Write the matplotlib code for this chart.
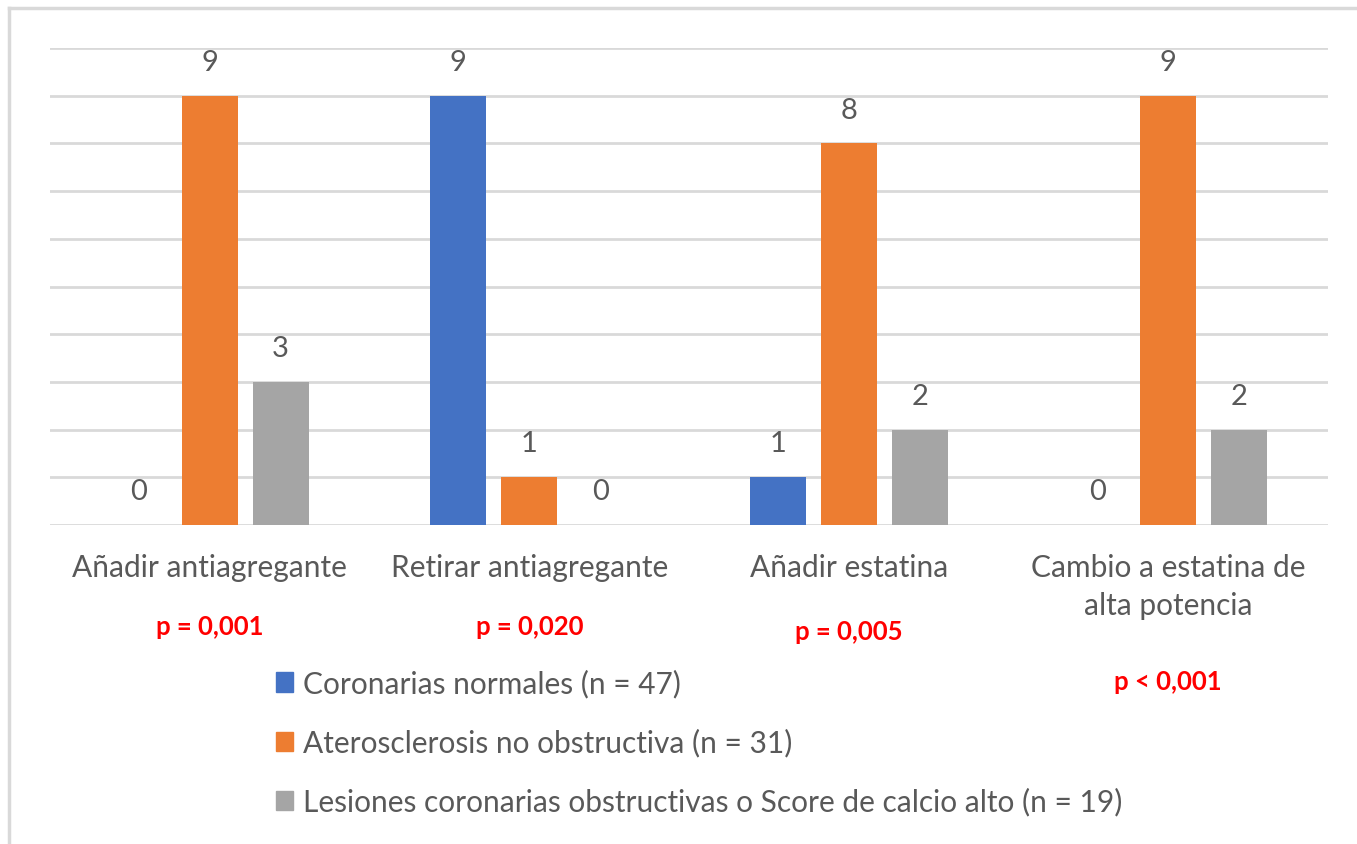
"""
Barras agrupadas: cambios de tratamiento por grupo de coronariografía
"""
import matplotlib
matplotlib.use("Agg")
import matplotlib.pyplot as plt
import matplotlib.patches as mpatches
from matplotlib.lines import Line2D
import matplotlib.transforms as mtransforms
import numpy as np

CATEGORIES = ["Añadir antiagregante", "Retirar antiagregante", "Añadir estatina",
              "Cambio a estatina de\nalta potencia"]
SERIES = ["Coronarias normales (n = 47)", "Aterosclerosis no obstructiva (n = 31)",
          "Lesiones coronarias obstructivas o Score de calcio alto (n = 19)"]
NORMALES = [0, 9, 1, 0]
ATEROSCLEROSIS = [9, 1, 8, 9]
LESIONES = [3, 0, 2, 2]
P_VALUES = ["p = 0,001", "p = 0,020", "p = 0,005", "p < 0,001"]

COLORS = ["#4472c4", "#ed7d31", "#a5a5a5"]
TEXT = "#595959"
GRID = "#d9d9d9"

plt.rcParams["font.family"] = ["Lato", "DejaVu Sans"]

fig = plt.figure(figsize=(13.57, 8.45), dpi=100)
W, H = 1357, 845
ax = fig.add_axes([50 / W, 1 - 526 / H, (1328 - 50) / W, (526 - 49) / H])

x = np.arange(len(CATEGORIES))
width = 0.175
step = 0.222
for k, (vals, col) in enumerate(zip([NORMALES, ATEROSCLEROSIS, LESIONES], COLORS)):
    pos = x + (k - 1) * step
    ax.bar(pos, vals, width=width, color=col, zorder=3)
    for px, v in zip(pos, vals):
        ax.annotate(str(v), (px, v), xytext=(0, 15), textcoords="offset points",
                    ha="center", va="bottom", fontsize=21, color=TEXT)

ax.set_xlim(-0.5, len(CATEGORIES) - 0.5)
ax.set_ylim(0, 10)
ax.set_yticks(range(0, 11))
ax.yaxis.grid(True, color=GRID, linewidth=2, zorder=0)
ax.tick_params(axis="y", left=False, labelleft=False)
ax.tick_params(axis="x", bottom=False, pad=17)
ax.set_xticks(x)
ax.set_xticklabels(CATEGORIES, fontsize=21.5, color=TEXT, linespacing=1.42)
for s in ax.spines.values():
    s.set_visible(False)

# p-valores bajo cada categoría
trans = mtransforms.blended_transform_factory(ax.transData, fig.transFigure)
p_y = [627, 627, 632, 682]
for xi, p, py in zip(x, P_VALUES, p_y):
    ax.text(xi, 1 - py / H, p, transform=trans, ha="center", va="center",
            fontsize=18.5, fontweight="bold", color="#ff0000")

handles = [mpatches.Patch(color=c, label=l) for c, l in zip(COLORS, SERIES)]
fig.legend(handles=handles, loc="upper left", bbox_to_anchor=(264 / W, 1 - 658 / H),
           frameon=False, fontsize=21.5, labelcolor=TEXT, handlelength=0.57,
           handleheight=0.62, handletextpad=0.33, labelspacing=1.02, borderaxespad=0)

# marco de la imagen (solo arriba e izquierda)
fig.add_artist(Line2D([9 / W, 9 / W], [0, 1 - 9 / H], color=GRID, lw=2.5))
fig.add_artist(Line2D([9 / W, 1], [1 - 9 / H, 1 - 9 / H], color=GRID, lw=2.5))

fig.savefig("out.png", dpi=100)
